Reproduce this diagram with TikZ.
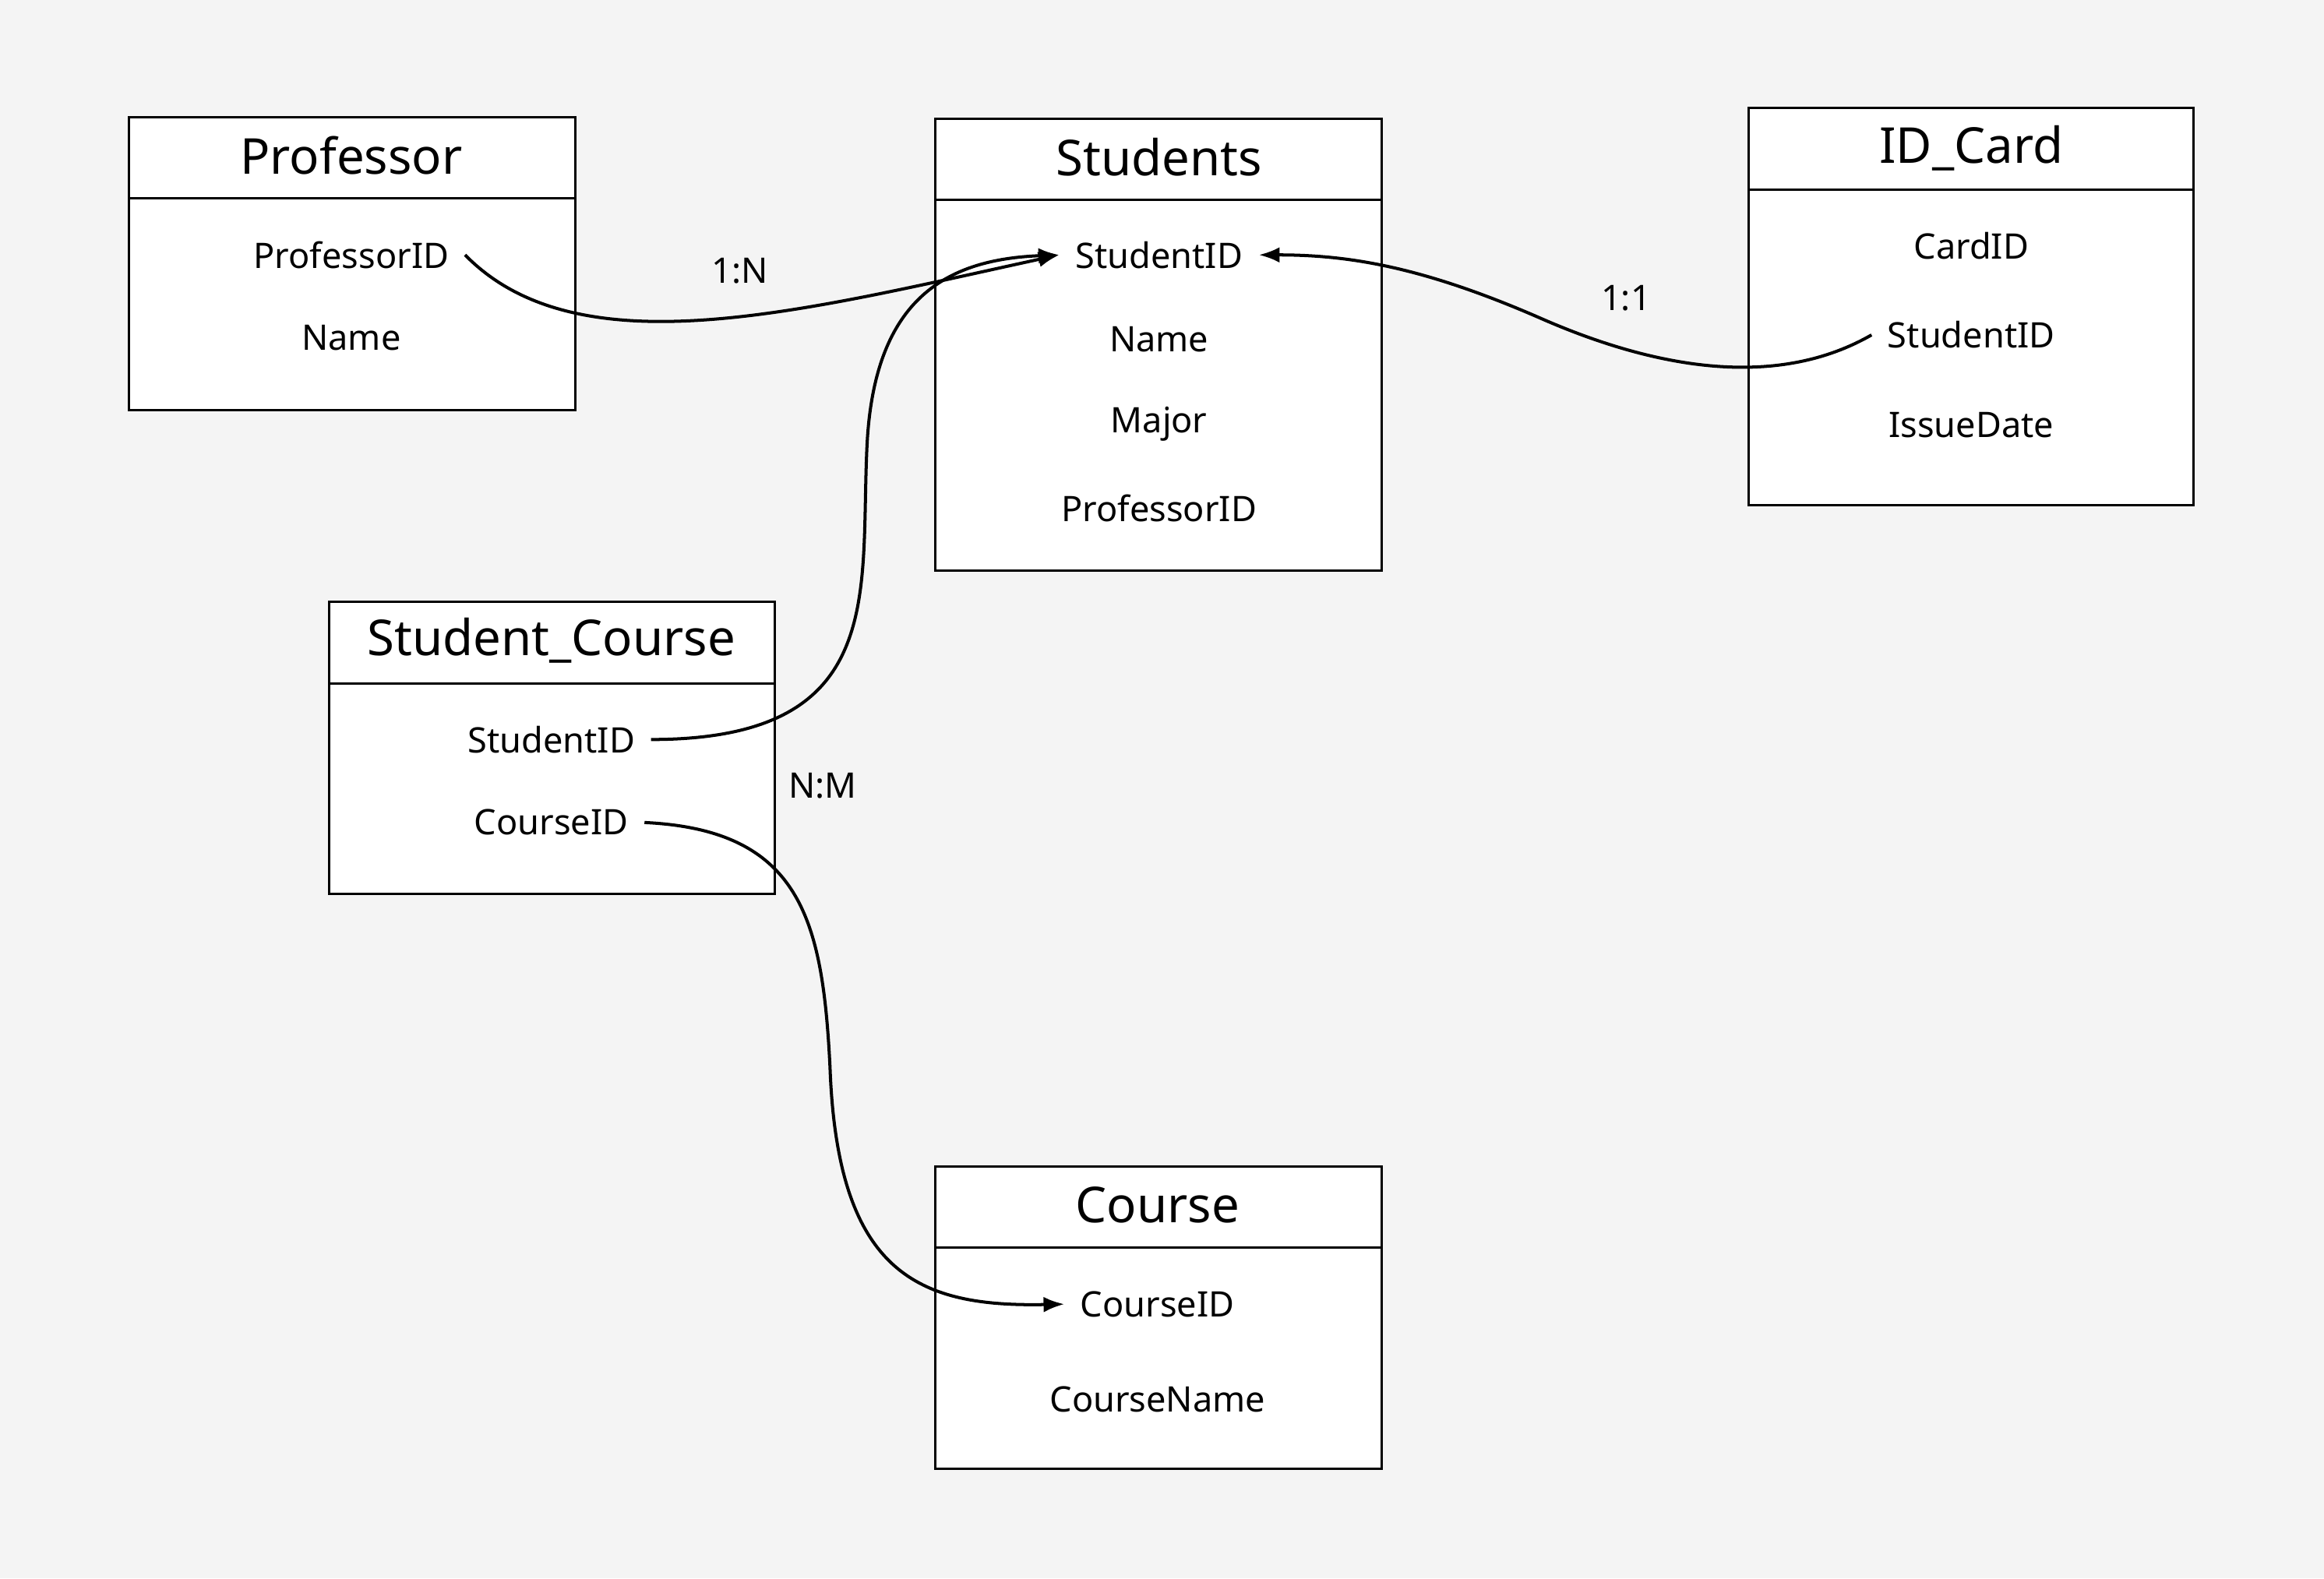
\documentclass[tikz,border=0pt]{standalone}
\usepackage{fontspec}
\setmainfont{Noto Sans}
\usetikzlibrary{arrows.meta,positioning}
\definecolor{bg}{HTML}{F4F4F4}
\tikzset{x=0.02cm, y=-0.02cm, >={Latex[length=8pt,width=6pt]},
  box/.style={draw, fill=white, line width=0.9pt},
  sep/.style={line width=0.9pt},
  title/.style={font=\fontsize{19}{19}\selectfont, anchor=center},
  field/.style={font=\fontsize{13.5}{13.5}\selectfont, anchor=center, inner sep=6pt},
  rel/.style={font=\fontsize{13.5}{13.5}\selectfont},
  link/.style={draw, line width=1.2pt}}
\begin{document}
\begin{tikzpicture}
  \fill [bg] (0,0) rectangle (1568,1065);
  \useasboundingbox (0,0) rectangle (1568,1065);

  % tables
  \draw [box] (87,79) rectangle (388,277); \draw [sep] (87,134) -- (388,134);
  \draw [box] (631,80) rectangle (932,385); \draw [sep] (631,135) -- (932,135);
  \draw [box] (1180,73) rectangle (1480,341); \draw [sep] (1180,128) -- (1480,128);
  \draw [box] (222,406) rectangle (523,603); \draw [sep] (222,461) -- (523,461);
  \draw [box] (631,787) rectangle (932,991); \draw [sep] (631,842) -- (932,842);

  \node [title] (t_prof) at (237,105) {Professor};
  \node [field] (prof_id) at (237,172) {ProfessorID};
  \node [field] (prof_name) at (237,228) {Name};

  \node [title] (t_stud) at (782,106) {Students};
  \node [field] (stud_id) at (782,172) {StudentID};
  \node [field] (stud_name) at (782,229) {Name};
  \node [field] (stud_major) at (782,286) {Major};
  \node [field] (stud_prof) at (782,343) {ProfessorID};

  \node [title] (t_card) at (1330,100) {ID\_Card};
  \node [field] (card_id) at (1330,166) {CardID};
  \node [field] (card_stud) at (1330,226) {StudentID};
  \node [field] (card_date) at (1330,287) {IssueDate};

  \node [title] (t_sc) at (372,432) {Student\_Course};
  \node [field] (sc_stud) at (372,499) {StudentID};
  \node [field] (sc_course) at (372,555) {CourseID};

  \node [title] (t_course) at (781,813) {Course};
  \node [field] (course_id) at (781,880) {CourseID};
  \node [field] (course_name) at (781,944) {CourseName};

  % relations
  \draw [link, ->] (prof_id.east) .. controls (390,250) and (540,210) .. (stud_id.west);
  \node [rel] (r_1n) at (499,183) {1:N};

  \draw [link, ->] (sc_stud.east) .. controls (600,499) and (580,400) .. (585,300)
    .. controls (590,200) and (640,175) .. (stud_id.west);

  \draw [link, ->] (card_stud.west) .. controls (1200,262) and (1120,250) .. (1040,215)
    .. controls (960,180) and (910,172) .. (stud_id.east);
  \node [rel] (r_11) at (1097,201) {1:1};

  \draw [link, ->] (sc_course.east) .. controls (540,560) and (555,620) .. (560,720)
    .. controls (565,860) and (620,882) .. (course_id.west);
  \node [rel] (r_nm) at (555,530) {N:M};
\end{tikzpicture}
\end{document}
